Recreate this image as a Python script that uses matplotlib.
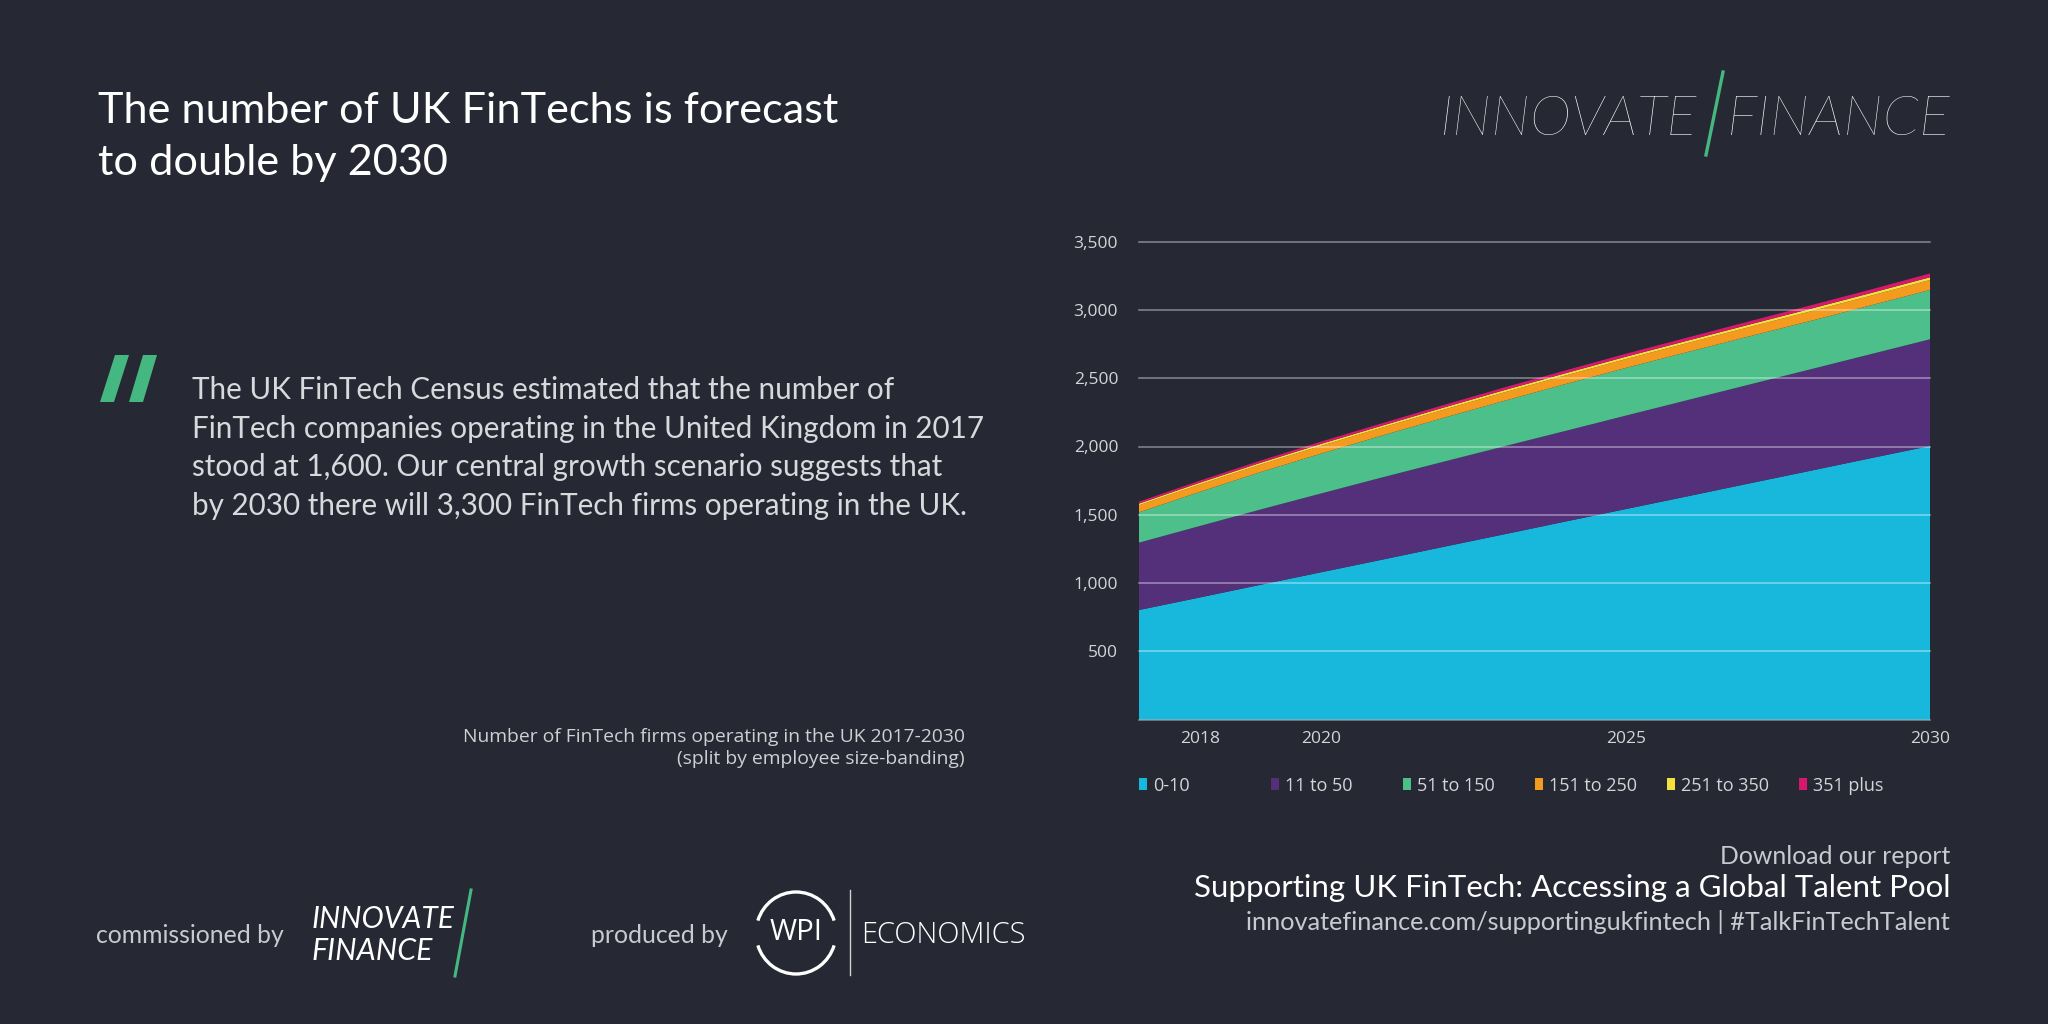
import matplotlib
matplotlib.use('Agg')
import matplotlib.pyplot as plt
from matplotlib.patches import Polygon, Rectangle, Arc
from matplotlib.lines import Line2D
from matplotlib.transforms import Affine2D

# ---------------- data ----------------
years = list(range(2017, 2031))
band_0_10 = [803, 895, 988, 1080, 1172, 1265, 1357, 1450, 1542, 1634, 1727, 1819, 1912, 2004]
band_11_50 = [493, 523, 551, 577, 602, 623, 644, 663, 684, 704, 723, 742, 761, 781]
band_51_150 = [222, 250, 274, 292, 307, 321, 333, 343, 349, 352, 353, 354, 357, 361]
band_151_250 = [52, 54, 55, 57, 58, 60, 62, 63, 65, 66, 68, 70, 71, 73]
band_251_350 = [12, 13, 13, 14, 14, 15, 16, 16, 17, 17, 18, 19, 19, 20]
band_351_plus = [14, 15, 16, 17, 18, 19, 20, 21, 22, 23, 24, 25, 26, 28]
series_labels = ['0-10', '11 to 50', '51 to 150', '151 to 250', '251 to 350', '351 plus']
y_ticks = [0, 500, 1000, 1500, 2000, 2500, 3000, 3500]
x_ticks = [2018, 2020, 2025, 2030]

title_lines = ['The number of UK FinTechs is forecast', 'to double by 2030']
quote_lines = ['The UK FinTech Census estimated that the number of',
               'FinTech companies operating in the United Kingdom in 2017',
               'stood at 1,600. Our central growth scenario suggests that',
               'by 2030 there will 3,300 FinTech firms operating in the UK.']
caption_lines = ['Number of FinTech firms operating in the UK 2017-2030',
                 '(split by employee size-banding)']
report_lines = ['Download our report',
                'Supporting UK FinTech: Accessing a Global Talent Pool',
                'innovatefinance.com/supportingukfintech | #TalkFinTechTalent']

# ---------------- style ----------------
BG = '#262833'
colors = ['#17b8dc', '#55307a', '#4cbf8b', '#f39a1f', '#f4e23c', '#d6186f']
GREEN = '#45b882'
W, H = 2048, 1024
BRAND = ['Lato', 'DejaVu Sans']
SANS = ['Open Sans', 'DejaVu Sans']

fig = plt.figure(figsize=(W / 100, H / 100), dpi=100, facecolor=BG)
renderer = fig.canvas.get_renderer()
pix = Affine2D().scale(1, -1).translate(0, H)  # pixel coords (top-left origin) -> display


def ftext(x, y, s, target=None, ha='left', va='baseline', **kw):
    t = fig.text(x / W, 1 - y / H, s, ha=ha, va=va, **kw)
    if target:
        for _ in range(3):
            w = t.get_window_extent(renderer).width
            t.set_fontsize(t.get_fontsize() * target / w)
    return t


# ---------------- chart ----------------
ax = fig.add_axes([1139 / W, 1 - 719.7 / H, (1930 - 1139) / W, (719.7 - 241.6) / H])
ax.set_facecolor(BG)
ax.stackplot(years, band_0_10, band_11_50, band_51_150, band_151_250, band_251_350,
             band_351_plus, colors=colors, linewidth=0, labels=series_labels)
ax.set_xlim(years[0], years[-1])
ax.set_ylim(0, 3500)
ax.set_yticks(y_ticks)
ax.set_yticklabels(['' if v == 0 else f'{v:,}' for v in y_ticks])
ax.set_xticks(x_ticks)
ax.set_xticklabels([str(v) for v in x_ticks])
ax.tick_params(axis='y', length=0, pad=15, labelsize=12.5, labelcolor='#d4d5d8')
ax.tick_params(axis='x', length=0, pad=8, labelsize=12.5, labelcolor='#d4d5d8')
for lab in ax.get_xticklabels() + ax.get_yticklabels():
    lab.set_family(SANS)
ax.set_axisbelow(False)
ax.grid(axis='y', color='white', alpha=0.45, lw=1.1)
ax.grid(axis='x', visible=False)
for gl in ax.yaxis.get_gridlines():
    gl.set_clip_on(False)
for sp in ax.spines.values():
    sp.set_visible(False)

# legend (manual, row under chart)
handles, labels = ax.get_legend_handles_labels()
for i, (h, lab) in enumerate(zip(handles, labels)):
    x0 = 1139 + i * 132
    fig.add_artist(Rectangle((x0, 778), 8, 12, transform=pix, facecolor=h.get_facecolor(),
                             edgecolor='none'))
    ftext(x0 + 14, 784, lab, va='center_baseline', fontsize=13, color='#d4d5d8', family=SANS)

# ---------------- text blocks ----------------
t1 = ftext(98, 123, title_lines[0], target=740, color='white', family=BRAND)
ftext(98, 175, title_lines[1], fontsize=t1.get_fontsize(), color='white', family=BRAND)

q_base = [399, 438, 476, 515]
tq = ftext(192, q_base[3], quote_lines[3], target=775, color='#d8d9dc', family=BRAND)
for s, yb in zip(quote_lines[:3], q_base[:3]):
    ftext(192, yb, s, fontsize=tq.get_fontsize(), color='#d8d9dc', family=BRAND)

# quote mark
fig.add_artist(Polygon([(100, 402), (114, 402), (129, 355), (115, 355)], closed=True,
                       transform=pix, facecolor=GREEN, edgecolor='none'))
fig.add_artist(Polygon([(129, 402), (143, 402), (157, 355), (143, 355)], closed=True,
                       transform=pix, facecolor=GREEN, edgecolor='none'))

tc = ftext(965, 742, caption_lines[0], target=502, ha='right', color='#cfd0d4', family=SANS)
ftext(965, 764, caption_lines[1], ha='right', fontsize=tc.get_fontsize(), color='#cfd0d4',
      family=SANS)

# top-right logo
ftext(1440, 135, 'INNOVATE', target=258, color='white', family=BRAND, fontweight='light',
      style='italic')
ftext(1727, 135, 'FINANCE', target=224, color='white', family=BRAND, fontweight='light',
      style='italic')
fig.add_artist(Line2D([1723, 1706], [72, 155], transform=pix, color=GREEN, lw=2.4))

# bottom left credits
ftext(96, 943, 'commissioned by', target=187, color='#c9cacf', family=BRAND)
ftext(312, 928, 'INNOVATE', target=143, color='white', family=BRAND, style='italic')
ftext(312, 960, 'FINANCE', target=121, color='white', family=BRAND, style='italic')
fig.add_artist(Line2D([471, 455], [890, 976], transform=pix, color=GREEN, lw=2.2))

ftext(591, 943, 'produced by', target=136, color='#c9cacf', family=BRAND)
for t1_, t2_ in [(18, 162), (198, 342)]:
    fig.add_artist(Arc((796, 933), 80, 82, theta1=t1_, theta2=t2_, transform=pix,
                       color='white', lw=2.4))
ftext(796, 933, 'WPI', target=53, ha='center', va='center', color='white', family=SANS)
fig.add_artist(Line2D([850, 850], [890, 975], transform=pix, color='#d0d0d0', lw=1.0))
ftext(861, 943, 'ECONOMICS', target=163, color='white', family=SANS, fontweight='light')

# bottom right report text
ftext(1950, 864, report_lines[0], target=230, ha='right', color='#c9cacf', family=BRAND)
ftext(1950, 897, report_lines[1], target=756, ha='right', color='white', family=BRAND)
ftext(1950, 930, report_lines[2], target=706, ha='right', color='#c9cacf', family=BRAND)

fig.savefig('out.png', dpi=100, facecolor=BG)
